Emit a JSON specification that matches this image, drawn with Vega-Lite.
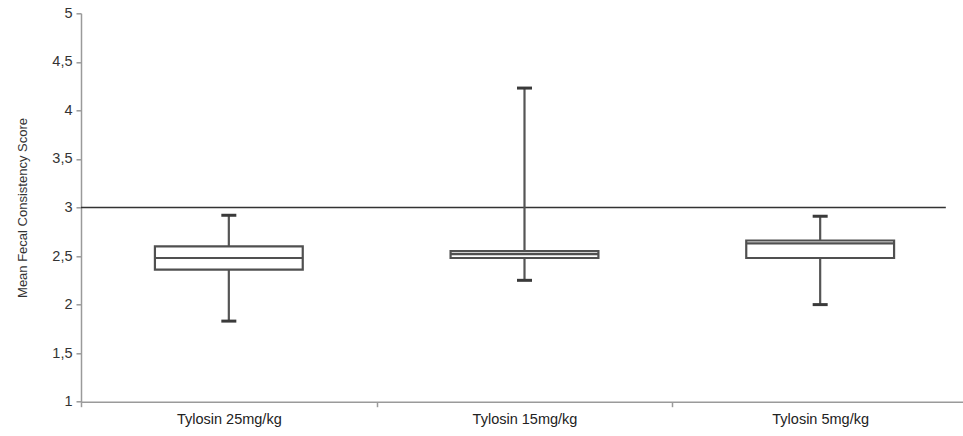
{
  "$schema": "https://vega.github.io/schema/vega-lite/v6.json",
  "autosize": "none",
  "padding": {"left": 81, "top": 13.3, "right": 0, "bottom": 34.3},
  "width": 882,
  "height": 388.4,
  "background": "white",
  "config": {
    "view": {"stroke": null},
    "font": "Liberation Sans"
  },
  "datasets": {
    "boxes": [
      {"group": "Tylosin 25mg/kg", "min": 1.83, "q1": 2.36, "median": 2.48, "q3": 2.6, "max": 2.92},
      {"group": "Tylosin 15mg/kg", "min": 2.25, "q1": 2.48, "median": 2.52, "q3": 2.55, "max": 4.23},
      {"group": "Tylosin 5mg/kg", "min": 2.0, "q1": 2.48, "median": 2.63, "q3": 2.66, "max": 2.91}
    ],
    "reference": [
      {"score": 3, "from": "Tylosin 25mg/kg", "to": "Tylosin 5mg/kg"}
    ]
  },
  "layer": [
    {
      "data": {"name": "reference"},
      "mark": {"type": "rule", "color": "#333333", "strokeWidth": 1.6},
      "encoding": {
        "x": {"field": "from", "type": "nominal", "bandPosition": 0,
              "sort": ["Tylosin 25mg/kg", "Tylosin 15mg/kg", "Tylosin 5mg/kg"],
              "scale": {"domain": ["Tylosin 25mg/kg", "Tylosin 15mg/kg", "Tylosin 5mg/kg"], "range": [0, 887], "paddingInner": 0, "paddingOuter": 0},
              "axis": {"title": null, "labelAngle": 0, "labelFontSize": 14.5, "labelColor": "#222222", "labelPadding": 6,
                       "domainColor": "#9a9a9a", "domainWidth": 1.5, "tickBand": "extent", "tickColor": "#9a9a9a", "tickWidth": 1.5, "tickSize": 5}},
        "x2": {"field": "to", "bandPosition": 0.925},
        "y": {"field": "score", "type": "quantitative"}
      }
    },
    {
      "data": {"name": "boxes"},
      "layer": [
        {
          "mark": {"type": "rule", "color": "#555555", "strokeWidth": 2.2},
          "encoding": {
            "x": {"field": "group", "type": "nominal"},
            "y": {"field": "min", "type": "quantitative",
                  "scale": {"domain": [1, 5], "nice": false, "zero": false},
                  "axis": {"title": "Mean Fecal Consistency Score", "titleFontSize": 13, "titleFontWeight": "normal", "titleColor": "#333333", "titlePadding": 22,
                           "values": [1, 1.5, 2, 2.5, 3, 3.5, 4, 4.5, 5],
                           "labelExpr": "replace(format(datum.value, ''), '.', ',')",
                           "labelFontSize": 14.5, "labelColor": "#333333", "labelPadding": 4,
                           "grid": false, "domainColor": "#9a9a9a", "domainWidth": 1.5, "tickColor": "#9a9a9a", "tickWidth": 1.5, "tickSize": 5}},
            "y2": {"field": "max"}
          }
        },
        {
          "mark": {"type": "bar", "fill": "white", "stroke": "#505050", "strokeWidth": 2.2, "width": {"band": 0.5}},
          "encoding": {
            "x": {"field": "group", "type": "nominal"},
            "y": {"field": "q1", "type": "quantitative"},
            "y2": {"field": "q3"}
          }
        },
        {
          "mark": {"type": "tick", "color": "#505050", "opacity": 1, "size": 148, "thickness": 2.2},
          "encoding": {
            "x": {"field": "group", "type": "nominal"},
            "y": {"field": "median", "type": "quantitative"}
          }
        },
        {
          "mark": {"type": "tick", "color": "#3a3a3a", "opacity": 1, "size": 15, "thickness": 3},
          "encoding": {
            "x": {"field": "group", "type": "nominal"},
            "y": {"field": "min", "type": "quantitative"}
          }
        },
        {
          "mark": {"type": "tick", "color": "#3a3a3a", "opacity": 1, "size": 15, "thickness": 3},
          "encoding": {
            "x": {"field": "group", "type": "nominal"},
            "y": {"field": "max", "type": "quantitative"}
          }
        }
      ]
    }
  ]
}
